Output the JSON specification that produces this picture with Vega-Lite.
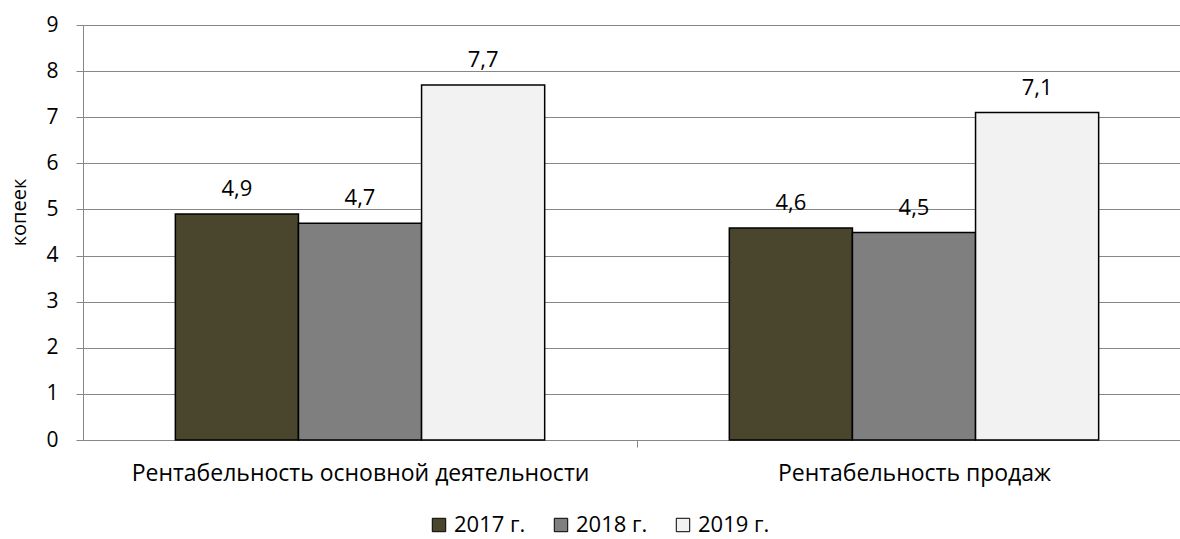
{
  "$schema": "https://vega.github.io/schema/vega-lite/v6.json",
  "width": 1097,
  "height": 415,
  "autosize": {"type": "none"},
  "padding": {"left": 83, "top": 25, "right": 0, "bottom": 99},
  "background": "white",
  "data": {
    "values": [
      {"category": "Рентабельность основной деятельности", "year": "2017 г.", "value": 4.9},
      {"category": "Рентабельность основной деятельности", "year": "2018 г.", "value": 4.7},
      {"category": "Рентабельность основной деятельности", "year": "2019 г.", "value": 7.7},
      {"category": "Рентабельность продаж", "year": "2017 г.", "value": 4.6},
      {"category": "Рентабельность продаж", "year": "2018 г.", "value": 4.5},
      {"category": "Рентабельность продаж", "year": "2019 г.", "value": 7.1}
    ]
  },
  "layer": [
    {
      "mark": {"type": "bar", "stroke": "black", "strokeWidth": 1.5},
      "encoding": {
        "x": {
          "field": "category", "type": "nominal", "sort": null,
          "scale": {"paddingInner": 0.3333, "paddingOuter": 0.1667, "range": [0, 1108]},
          "axis": {"title": null, "labelAngle": 0, "labelLimit": 0, "tickOffset": 277, "labelOffset": -277, "tickSize": 7, "labelPadding": 15, "labelFontSize": 23, "labelColor": "black", "domainColor": "#878787", "tickColor": "#878787", "grid": false}
        },
        "xOffset": {"field": "year", "type": "nominal", "sort": null, "scale": {"paddingInner": 0, "paddingOuter": 0}},
        "y": {
          "field": "value", "type": "quantitative",
          "scale": {"domain": [0, 9], "nice": false, "zero": true},
          "axis": {"title": "копеек", "titleFontSize": 20, "titleFontWeight": "normal", "titleColor": "black", "titleAngle": -90, "titleX": -64, "titleY": 187, "titleAlign": "center", "titleBaseline": "middle", "values": [0, 1, 2, 3, 4, 5, 6, 7, 8, 9], "labelOverlap": false, "tickSize": 7, "labelPadding": 18, "labelFontSize": 21, "labelColor": "black", "domainColor": "#878787", "tickColor": "#878787", "gridColor": "#878787", "gridWidth": 1, "grid": true}
        },
        "color": {
          "field": "year", "type": "nominal", "sort": null,
          "scale": {"domain": ["2017 г.", "2018 г.", "2019 г."], "range": ["#4A452D", "#7F7F7F", "#F2F2F2"]},
          "legend": {"title": null, "orient": "none", "direction": "horizontal", "legendX": 345, "legendY": 489, "symbolType": "square", "symbolSize": 180, "symbolStrokeColor": "black", "symbolStrokeWidth": 1, "symbolOpacity": 1, "labelFontSize": 22, "labelColor": "black", "labelOffset": 4, "columnPadding": 24}
        }
      }
    },
    {
      "mark": {"type": "text", "baseline": "alphabetic", "dy": -18, "fontSize": 22, "color": "black"},
      "encoding": {
        "x": {"field": "category", "type": "nominal", "sort": null},
        "xOffset": {"field": "year", "type": "nominal", "sort": null},
        "y": {"field": "value", "type": "quantitative"},
        "text": {"field": "value", "type": "quantitative", "format": ".1f"}
      }
    }
  ],
  "config": {
    "font": "Open Sans",
    "view": {"stroke": null},
    "locale": {"number": {"decimal": ",", "thousands": " ", "grouping": [3], "currency": ["", ""]}}
  }
}
